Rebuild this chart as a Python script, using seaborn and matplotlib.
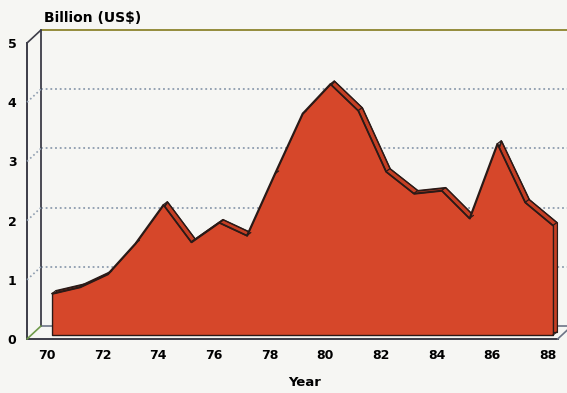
import matplotlib
matplotlib.use('Agg')
import matplotlib.pyplot as plt
import numpy as np
import pandas as pd
import seaborn as sns
from matplotlib.lines import Line2D
from matplotlib.transforms import offset_copy, IdentityTransform

# ── Data ────────────────────────────────────────────────────────────────────
YEARS  = list(range(70, 89))
VALUES = [0.70, 0.81, 1.03, 1.55, 2.20, 1.57, 1.90, 1.68, 2.72, 3.74,
          4.24, 3.79, 2.76, 2.39, 2.44, 1.97, 3.23, 2.24, 1.85]
X_TICKS     = [70, 72, 74, 76, 78, 80, 82, 84, 86, 88]
X_MINOR     = [71, 73, 75, 77, 79, 81, 83, 85, 87]
Y_TICKS     = [0, 1, 2, 3, 4, 5]
GRID_LEVELS = [1, 2, 3, 4]

# ── Style ───────────────────────────────────────────────────────────────────
BG       = '#f6f6f3'
RED      = '#d6472a'
SIDE_RED = '#c43f24'
EDGE     = '#2b1a17'
AXIS     = '#3c3c48'
OLIVE    = '#948c3c'
GRID     = '#8d9cae'

XMIN, XMAX = 69.28, 88.685
DEPTH = (14, 13)          # back wall offset in pixels
FACE_OFF = (5, 4)         # area front face offset in pixels
SIDE_OFF = (9, 7)         # area back face offset in pixels

sns.set_style('white')
plt.rcParams['font.family'] = ['DejaVu Sans']

fig = plt.figure(figsize=(5.67, 3.93), dpi=100)
fig.patch.set_facecolor(BG)
ax = fig.add_axes([27 / 567, 54 / 393, 540 / 567, 296 / 393])
ax.set_facecolor(BG)
ax.set_xlim(XMIN, XMAX)
ax.set_ylim(0, 5)

df = pd.DataFrame({'year': YEARS, 'value': VALUES})

# ── Back wall ───────────────────────────────────────────────────────────────
back = offset_copy(ax.transData, fig=fig, x=DEPTH[0], y=DEPTH[1], units='dots')
ax.hlines(GRID_LEVELS, XMIN, XMAX, transform=back, colors=GRID,
          linestyles=(0, (1, 1.6)), linewidth=1.3, clip_on=False, zorder=1)
ax.plot([XMIN, XMAX], [5, 5], transform=back, color=OLIVE, lw=1.4,
        clip_on=False, zorder=1)
ax.plot([XMIN, XMAX], [0, 0], transform=back, color='#6c7486', lw=1.2,
        clip_on=False, zorder=1)
ax.plot([XMIN, XMIN], [0, 5], transform=back, color=AXIS, lw=1.3,
        clip_on=False, zorder=1)


# short lines going into depth, drawn in display pixels
def depth_line(x, y, off0, off1, color, ls='-', lw=1.2, z=2):
    p0 = ax.transData.transform((x, y))
    fig.add_artist(Line2D([p0[0] + off0[0], p0[0] + off1[0]],
                          [p0[1] + off0[1], p0[1] + off1[1]],
                          transform=IdentityTransform(), color=color,
                          linestyle=ls, lw=lw, zorder=z))


for v in GRID_LEVELS:
    depth_line(XMIN, v, (0, 0), DEPTH, GRID, ls=(0, (1, 1.6)))
depth_line(XMIN, 5, (0, 0), DEPTH, AXIS)
depth_line(XMIN, 0, (0, 0), DEPTH, '#6f9a4a')
depth_line(88.35, 0, (0, 0), DEPTH, '#6c7486')

# ── Area (extruded) ─────────────────────────────────────────────────────────
side = offset_copy(ax.transData, fig=fig, x=SIDE_OFF[0], y=SIDE_OFF[1],
                   units='dots')
ax.fill_between(df['year'], df['value'], transform=side, facecolor=SIDE_RED,
                edgecolor=EDGE, linewidth=0.9, zorder=3, clip_on=False)
sns.lineplot(data=df, x='year', y='value', ax=ax, color=EDGE, lw=0.9,
             transform=side, zorder=3, clip_on=False)

# vertex edges between back and front face (hidden where the face covers)
fig.canvas.draw()
for x, y in zip(YEARS, VALUES):
    depth_line(x, y, FACE_OFF, SIDE_OFF, EDGE, lw=0.9, z=3.5)
depth_line(YEARS[-1], 0, FACE_OFF, SIDE_OFF, EDGE, lw=0.9, z=3.5)

face = offset_copy(ax.transData, fig=fig, x=FACE_OFF[0], y=FACE_OFF[1],
                   units='dots')
ax.fill_between(df['year'], df['value'], transform=face, facecolor=RED,
                edgecolor=EDGE, linewidth=1.0, zorder=4, clip_on=False)
sns.lineplot(data=df, x='year', y='value', ax=ax, color=EDGE, lw=1.2,
             transform=face, zorder=4, clip_on=False)

# ── Front axes ──────────────────────────────────────────────────────────────
for s in ['top', 'right']:
    ax.spines[s].set_visible(False)
for s in ['left', 'bottom']:
    ax.spines[s].set_color(AXIS)
    ax.spines[s].set_linewidth(1.4)
    ax.spines[s].set_zorder(5)
ax.spines['bottom'].set_bounds(XMIN, 88.35)

ax.set_xticks(X_TICKS)
ax.set_xticks(X_MINOR, minor=True)
ax.set_yticks(Y_TICKS)
ax.set_xticklabels([str(t) for t in X_TICKS], fontweight='bold', fontsize=9)
ax.set_yticklabels([str(t) for t in Y_TICKS], fontweight='bold', fontsize=9)
ax.tick_params(axis='x', which='both', direction='inout', length=6,
               width=1.2, color=AXIS, pad=4.5, labelcolor='black')
ax.tick_params(axis='y', direction='out', length=3.5, width=1.2,
               color=AXIS, pad=4, labelcolor='black')
ax.set_xlabel('')
ax.set_ylabel('')
ax.grid(False)

fig.text(305 / 567, 1 - 383 / 393, 'Year', ha='center', va='center',
         fontweight='bold', fontsize=9.5, color='black')
fig.text(44 / 567, 1 - 18 / 393, 'Billion (US$)', ha='left', va='center',
         fontweight='bold', fontsize=10, color='black')

fig.savefig('out.png', dpi=100, facecolor=BG)
